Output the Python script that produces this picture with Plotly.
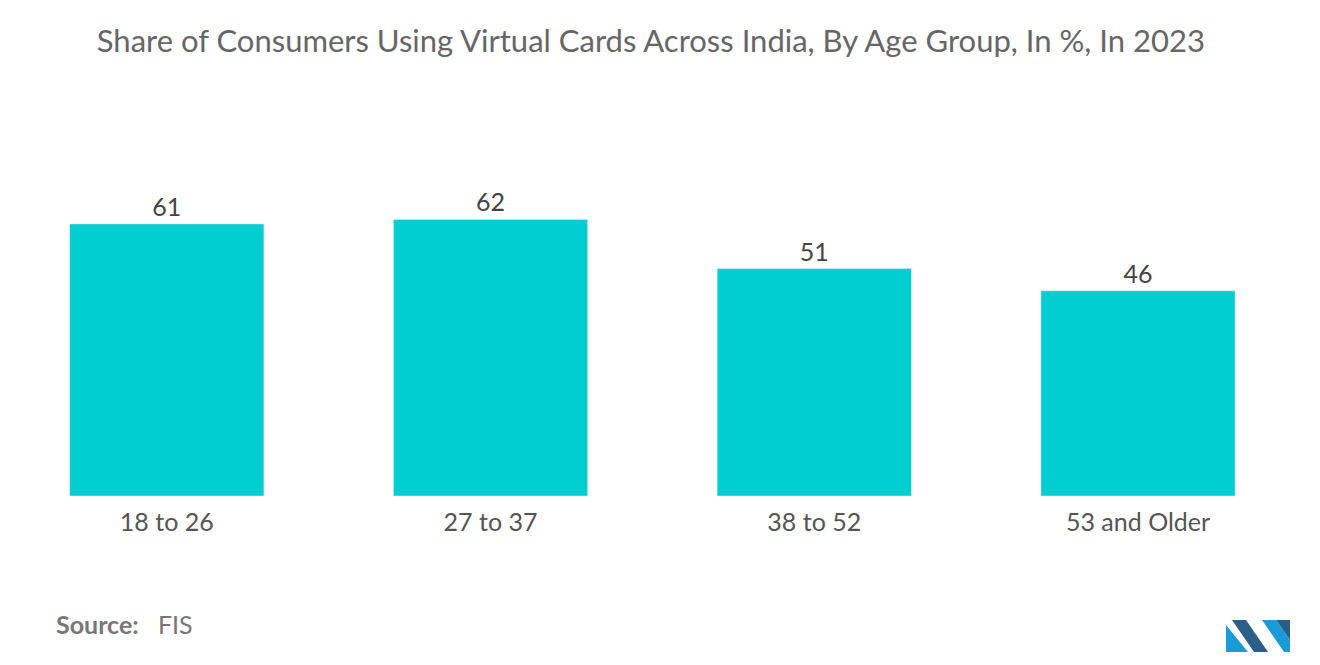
import plotly.graph_objects as go

# data
age_groups = ["18 to 26", "27 to 37", "38 to 52", "53 and Older"]
share_pct = [61, 62, 51, 46]

W, H = 1320, 665

fig = go.Figure()
fig.add_trace(go.Bar(
    x=age_groups,
    y=share_pct,
    marker_color="#00CED1",
    width=0.6,
    text=share_pct,
    textposition="outside",
    textfont=dict(size=25, color="#444444"),
    cliponaxis=False,
))

fig.update_layout(
    width=W, height=H,
    margin=dict(l=5, r=20, t=100, b=177),
    paper_bgcolor="white", plot_bgcolor="white",
    font=dict(family="Lato, Open Sans, sans-serif"),
    title=dict(text="Share of Consumers Using Virtual Cards Across India, By Age Group, In %, In 2023",
               x=0.487, xanchor="center", y=0.95, yanchor="middle",
               font=dict(size=31, color="#666666")),
    showlegend=False,
    bargap=0.4,
)
fig.update_xaxes(showline=False, ticks="", automargin=False, range=[-0.475, 3.525],
                 ticklabelstandoff=9,
                 tickfont=dict(size=25, color="#555555"))
fig.update_yaxes(visible=False, range=[0, 87], automargin=False)

fig.add_annotation(xref="paper", yref="paper", x=0.032, y=-0.33, xanchor="left", yanchor="middle",
                   showarrow=False, text="<b>Source:</b>   FIS",
                   font=dict(size=25, color="#777777"))

# logo (rough)
def px(x, y):
    return (x - 13) / (W - 25), (H - 177 - y - 7) / (H - 277)

def path(pts):
    s = ""
    for i, (x, y) in enumerate(pts):
        a, b = px(x, y)
        s += ("M" if i == 0 else "L") + f"{a},{b} "
    return s + "Z"

fig.add_shape(type="path", xref="paper", yref="paper", line_width=0, fillcolor="#1a9bd7",
              path=path([(1226, 637), (1226, 610), (1248, 637)]))
fig.add_shape(type="path", xref="paper", yref="paper", line_width=0, fillcolor="#2b5f8a",
              path=path([(1232, 605), (1246, 605), (1268, 637), (1254, 637)]))
fig.add_shape(type="path", xref="paper", yref="paper", line_width=0, fillcolor="#1a9bd7",
              path=path([(1262, 605), (1276, 605), (1290, 625), (1290, 637), (1284, 637)]))
fig.add_shape(type="path", xref="paper", yref="paper", line_width=0, fillcolor="#2b5f8a",
              path=path([(1276, 605), (1290, 605), (1290, 625)]))

fig.write_html("out.html")
